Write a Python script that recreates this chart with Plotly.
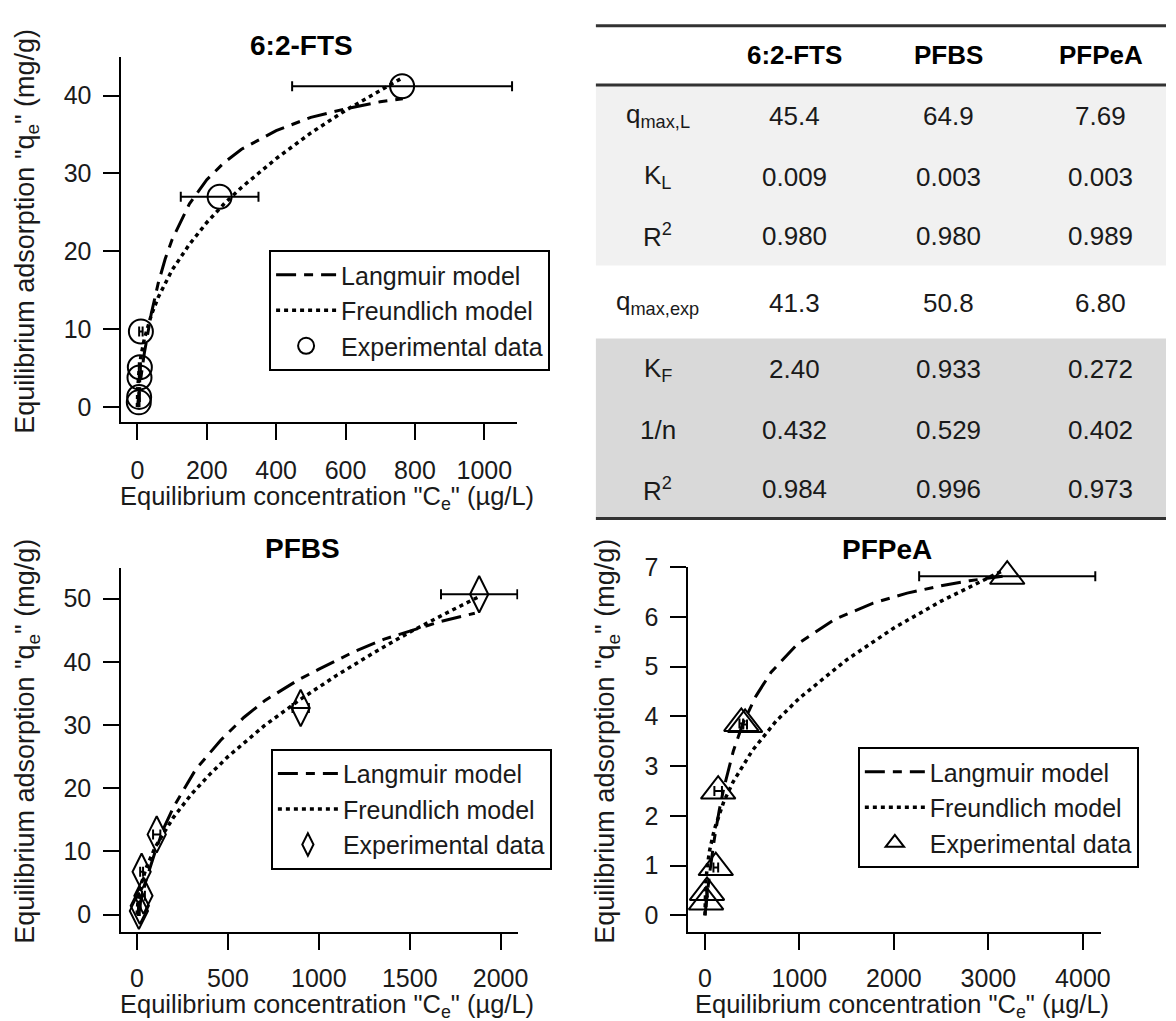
import plotly.graph_objects as go

W, H = 1176, 1021

# ---------------- data ----------------
# 6:2-FTS
fts_lang_c = [0, 1, 5, 10, 20, 40, 60, 80, 100, 150, 200, 250, 300, 400, 500, 600, 700, 765]
fts_lang_q = [0, 0.41, 1.96, 3.75, 6.93, 12.0, 15.9, 19.0, 21.5, 26.1, 29.2, 31.4, 33.1, 35.5, 37.2, 38.3, 39.2, 39.6]
fts_freu_c = [0, 0.2, 1, 5, 10, 20, 40, 60, 80, 100, 150, 200, 250, 300, 400, 500, 600, 700, 765]
fts_freu_q = [0, 1.2, 2.4, 4.81, 6.49, 8.76, 11.8, 14.1, 15.9, 17.6, 20.9, 23.7, 26.1, 28.2, 31.9, 35.2, 38.1, 40.7, 42.3]
fts_exp_c = [4, 5, 6, 7, 10, 237, 763]
fts_exp_q = [0.6, 1.3, 3.8, 5.1, 9.7, 27.0, 41.2]
fts_exp_cerr = [2, 2, 2, 3, 5, 112, 317]

# PFBS
pfbs_lang_c = [0, 20, 50, 100, 150, 200, 254, 323, 460, 587, 704, 890, 998, 1193, 1360, 1516, 1672, 1858]
pfbs_lang_q = [0, 2.3, 5.5, 10.0, 13.9, 17.0, 19.6, 23.0, 27.6, 31.2, 33.9, 37.2, 38.8, 41.6, 43.6, 45.0, 46.4, 47.7]
pfbs_freu_c = [0, 1, 5, 20, 50, 100, 200, 300, 400, 500, 700, 900, 1100, 1300, 1500, 1700, 1880]
pfbs_freu_q = [0, 0.93, 2.19, 4.55, 7.39, 10.7, 15.4, 19.1, 22.2, 25.0, 29.9, 34.1, 37.9, 41.4, 44.7, 47.7, 50.3]
pfbs_exp_c = [10, 15, 35, 25, 108, 900, 1882]
pfbs_exp_q = [0.6, 1.4, 3.0, 6.8, 12.7, 32.7, 50.7]
pfbs_exp_cerr = [5, 5, 8, 8, 20, 45, 210]

# PFPeA
pfpea_lang_c = [0, 25, 50, 100, 150, 200, 300, 400, 540, 700, 980, 1380, 1780, 2140, 2500, 2800, 3150]
pfpea_lang_q = [0, 0.45, 0.85, 1.54, 2.10, 2.56, 3.30, 3.85, 4.41, 4.89, 5.46, 5.96, 6.28, 6.48, 6.63, 6.73, 6.82]
pfpea_freu_c = [0, 2, 10, 25, 50, 100, 200, 300, 500, 750, 1000, 1500, 2000, 2500, 3150]
pfpea_freu_q = [0, 0.36, 0.69, 0.99, 1.31, 1.73, 2.29, 2.69, 3.31, 3.90, 4.37, 5.14, 5.78, 6.32, 6.93]
pfpea_exp_c = [12, 22, 115, 140, 385, 425, 3199]
pfpea_exp_q = [0.27, 0.46, 0.96, 2.50, 3.86, 3.84, 6.82]
pfpea_exp_cerr = [5, 8, 25, 40, 20, 20, 932]

# table
table_cols = ["6:2-FTS", "PFBS", "PFPeA"]
table_rows = ["q<sub>max,L</sub>", "K<sub>L</sub>", "R<sup>2</sup>", "q<sub>max,exp</sub>",
              "K<sub>F</sub>", "1/n", "R<sup>2</sup>"]
col_fts = ["45.4", "0.009", "0.980", "41.3", "2.40", "0.432", "0.984"]
col_pfbs = ["64.9", "0.003", "0.980", "50.8", "0.933", "0.529", "0.996"]
col_pfpea = ["7.69", "0.003", "0.989", "6.80", "0.272", "0.402", "0.973"]

# tick values
fts_xticks = [0, 200, 400, 600, 800, 1000]
fts_yticks = [0, 10, 20, 30, 40]
pfbs_xticks = [0, 500, 1000, 1500, 2000]
pfbs_yticks = [0, 10, 20, 30, 40, 50]
pfpea_xticks = [0, 1000, 2000, 3000, 4000]
pfpea_yticks = [0, 1, 2, 3, 4, 5, 6, 7]

# ---------------- helpers ----------------
FONT = "Liberation Sans, Arial, sans-serif"
INK = "#1a1a1a"


def px(x):
    return x / W


def py(y):
    return 1 - y / H


LANG_DASH = "20px,8px,9px,8px"
FREU_DASH = "4px,4px"

fig = go.Figure()

panels = [
    ("x", "y", "legend", fts_lang_c, fts_lang_q, fts_freu_c, fts_freu_q,
     fts_exp_c, fts_exp_q, fts_exp_cerr, dict(symbol="circle-open", size=24)),
    ("x2", "y2", "legend2", pfbs_lang_c, pfbs_lang_q, pfbs_freu_c, pfbs_freu_q,
     pfbs_exp_c, pfbs_exp_q, pfbs_exp_cerr, dict(symbol="diamond-tall-open", size=26)),
    ("x3", "y3", "legend3", pfpea_lang_c, pfpea_lang_q, pfpea_freu_c, pfpea_freu_q,
     pfpea_exp_c, pfpea_exp_q, pfpea_exp_cerr, dict(symbol="triangle-up-open", size=30)),
]

for (xa, ya, lg, lc, lq, fc, fq, ec, eq, eerr, mk) in panels:
    fig.add_trace(go.Scatter(x=lc, y=lq, mode="lines", name="Langmuir model",
                             line=dict(color="black", width=3, dash=LANG_DASH),
                             xaxis=xa, yaxis=ya, legend=lg, cliponaxis=False))
    fig.add_trace(go.Scatter(x=fc, y=fq, mode="lines", name="Freundlich model",
                             line=dict(color="black", width=3.5, dash=FREU_DASH),
                             xaxis=xa, yaxis=ya, legend=lg, cliponaxis=False))
    fig.add_trace(go.Scatter(x=ec, y=eq, mode="markers", name="Experimental data",
                             marker=dict(symbol=mk["symbol"], size=mk["size"], color="black",
                                         line=dict(color="black", width=2)),
                             error_x=dict(type="data", array=eerr, visible=True,
                                          color="black", thickness=2, width=5),
                             xaxis=xa, yaxis=ya, legend=lg, cliponaxis=False))

axis_common = dict(showline=True, linewidth=2, linecolor="black", ticks="outside",
                   ticklen=16, tickwidth=2, tickcolor="black", showgrid=False,
                   zeroline=False, tickfont=dict(family=FONT, size=25, color=INK),
                   fixedrange=True)

# plot areas in pixels (left, right, top, bottom)
A1 = (122.5, 521.7, 44.0, 413.5)
A2 = (122.3, 522.7, 561.7, 930.5)
A3 = (694.3, 1110.4, 561.0, 930.5)

XSO = 9
XSO_B = 7
YSO = 7
fig.update_layout(
    xaxis=dict(axis_common, domain=[px(A1[0]), px(A1[1])], range=[-46, 1095],
               tickvals=fts_xticks, anchor="y", ticklabelstandoff=XSO),
    yaxis=dict(axis_common, domain=[py(A1[3]), py(A1[2])], range=[-1.9, 44.9],
               tickvals=fts_yticks, anchor="x", ticklabelstandoff=YSO),
    xaxis2=dict(axis_common, domain=[px(A2[0]), px(A2[1])], range=[-87, 2097],
                tickvals=pfbs_xticks, anchor="y2", ticklabelstandoff=XSO_B),
    yaxis2=dict(axis_common, domain=[py(A2[3]), py(A2[2])], range=[-2.7, 54.85],
                tickvals=pfbs_yticks, anchor="x2", ticklabelstandoff=YSO),
    xaxis3=dict(axis_common, domain=[px(A3[0]), px(A3[1])], range=[-175, 4191],
                tickvals=pfpea_xticks, anchor="y3", ticklabelstandoff=XSO_B),
    yaxis3=dict(axis_common, domain=[py(A3[3]), py(A3[2])], range=[-0.33, 7.0],
                tickvals=pfpea_yticks, anchor="x3", ticklabelstandoff=YSO),
)

legend_common = dict(bgcolor="white", bordercolor="black", borderwidth=2,
                     font=dict(family=FONT, size=25, color=INK),
                     xanchor="left", yanchor="top", tracegroupgap=0, itemwidth=60)
fig.update_layout(
    legend=dict(legend_common, x=px(271.4), y=py(239.3)),
    legend2=dict(legend_common, x=px(273.2), y=py(745.0)),
    legend3=dict(legend_common, x=px(865.2), y=py(743.3)),
)

ann = []
# panel titles
for txt, cx, cy in [("6:2-FTS", 304, 32), ("PFBS", 305, 542), ("PFPeA", 895, 543)]:
    ann.append(dict(text="<b>%s</b>" % txt, x=px(cx), y=py(cy), xref="paper", yref="paper",
                    showarrow=False, xanchor="center", yanchor="middle",
                    font=dict(family=FONT, size=28, color="black")))
# axis titles
xt = 'Equilibrium concentration "C<sub>e</sub>" (µg/L)'
yt = 'Equilibrium adsorption "q<sub>e</sub>" (mg/g)'
for cx, cy in [(330, 491), (330, 1006), (910, 1006)]:
    ann.append(dict(text=xt, x=px(cx), y=py(cy), xref="paper", yref="paper", showarrow=False,
                    xanchor="center", yanchor="middle",
                    font=dict(family=FONT, size=25.5, color=INK)))
for cx, cy in [(27, 220), (27, 737), (612, 737)]:
    ann.append(dict(text=yt, x=px(cx), y=py(cy), xref="paper", yref="paper", showarrow=False,
                    xanchor="center", yanchor="middle", textangle=-90,
                    font=dict(family=FONT, size=27, color=INK)))

# table
TL, TR = 601, 1176
col_x = [801.7, 956.4, 1110.4]
row_label_x = 663.5
row_y = [103, 165, 225, 293, 360, 422, 482]
header_y = 42
shapes = [
    dict(type="rect", xref="paper", yref="paper", x0=px(TL), x1=px(TR), y0=py(255), y1=py(72),
         fillcolor="#f1f1f1", line=dict(width=0), layer="below"),
    dict(type="rect", xref="paper", yref="paper", x0=px(TL), x1=px(TR), y0=py(510), y1=py(329),
         fillcolor="#d9d9d9", line=dict(width=0), layer="below"),
]
for yy in [12, 72, 511.5]:
    shapes.append(dict(type="line", xref="paper", yref="paper", x0=px(TL), x1=px(TR),
                       y0=py(yy), y1=py(yy), line=dict(color="#333333", width=3)))

for name, cx in zip(table_cols, col_x):
    ann.append(dict(text="<b>%s</b>" % name, x=px(cx), y=py(header_y), xref="paper", yref="paper",
                    showarrow=False, xanchor="center", yanchor="middle",
                    font=dict(family=FONT, size=26, color="black")))
for lab, ry in zip(table_rows, row_y):
    ann.append(dict(text=lab, x=px(row_label_x), y=py(ry), xref="paper", yref="paper",
                    showarrow=False, xanchor="center", yanchor="middle",
                    font=dict(family=FONT, size=26, color=INK)))
for col, cx in zip([col_fts, col_pfbs, col_pfpea], col_x):
    for val, ry in zip(col, row_y):
        ann.append(dict(text=val, x=px(cx), y=py(ry), xref="paper", yref="paper",
                        showarrow=False, xanchor="center", yanchor="middle",
                        font=dict(family=FONT, size=26, color=INK)))

fig.update_layout(
    width=W, height=H, margin=dict(l=0, r=0, t=0, b=0),
    paper_bgcolor="white", plot_bgcolor="white",
    annotations=ann, shapes=shapes, showlegend=True,
    font=dict(family=FONT, color=INK),
)

fig.write_html("out.html", include_plotlyjs=True, config={"displayModeBar": False})
